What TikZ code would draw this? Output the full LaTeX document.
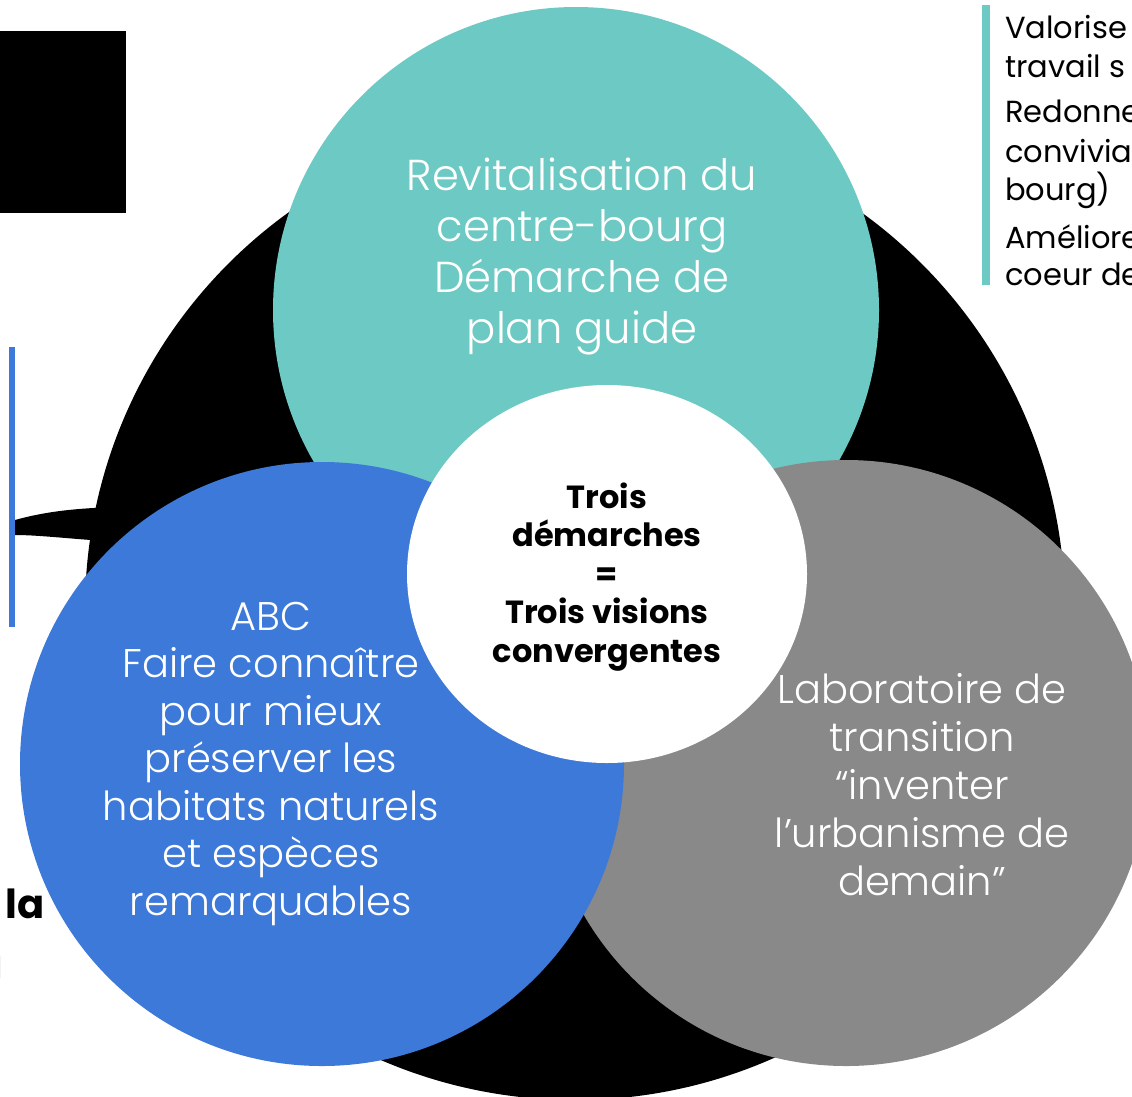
\documentclass[tikz,border=0pt]{standalone}
\usepackage{fontspec}
\setmainfont{Poppins}
\newfontfamily\lightfont{Poppins Light}
\usetikzlibrary{shapes.geometric, positioning}
\definecolor{tealc}{RGB}{109,201,195}
\definecolor{bluec}{RGB}{61,121,217}
\definecolor{grayc}{RGB}{137,137,137}
\tikzstyle{bubble} = [circle, draw=none, inner sep=0pt]
\tikzstyle{intext} = [text=white, inner sep=0pt, anchor=base, font=\lightfont\fontsize{40}{48}\selectfont]
\tikzstyle{keytext} = [inner sep=0pt, anchor=base, font=\bfseries\fontsize{32}{38}\selectfont]
\tikzstyle{sidetext} = [inner sep=0pt, anchor=base west, font=\fontsize{30.5}{38}\selectfont]

\begin{document}
\begin{tikzpicture}[x=1pt, y=-1pt]
\useasboundingbox (0,0) rectangle (1132,1096);

% Background pieces
\fill[black] (0,31) rectangle (126,213);
\fill[bluec] (9,347) rectangle (15,627);
\fill[tealc] (982,5) rectangle (990,285);
\fill[black] (15,520) .. controls (40,513) and (70,508) .. (120,507) -- (120,542) .. controls (70,539) and (40,535) .. (15,535) -- cycle;

% Circles
\node (outer) [bubble, fill=black, minimum size=980pt] at (575,610) {};
\node (centre) [bubble, fill=tealc, minimum size=606pt] at (576,310) {};
\node (labo) [bubble, fill=grayc, minimum size=606pt] at (846,763) {};
\node (abc) [bubble, fill=bluec, minimum size=604pt] at (322,764) {};
\node (core) [ellipse, draw=none, fill=white, minimum width=400pt, minimum height=378pt] at (607,574) {};

% Texts in the circles
\foreach \txt [count=\i] in {Revitalisation du, centre-bourg, Démarche de, plan guide}
  \node (t\i) [intext, font=\lightfont\fontsize{43.3}{51}\selectfont] at (582,190+51*\i-51) {\txt};
\foreach \txt [count=\i] in {ABC, Faire connaître, pour mieux, préserver les, habitats naturels, et espèces, remarquables}
  \node (b\i) [intext] at (271,630+47.5*\i-47.5) {\txt};
\foreach \txt [count=\i] in {Laboratoire de, transition, “inventer, l’urbanisme de, demain”}
  \node (g\i) [intext] at (922,703+48*\i-48) {\txt};
\foreach \txt [count=\i] in {Trois, démarches, =, Trois visions, convergentes}
  \node (k\i) [keytext] at (607,508+38.5*\i-38.5) {\txt};

% Side texts
\node (s1) [sidetext] at (1005,38) {Valorise};
\node (s2) [sidetext] at (1005,77) {travail s};
\node (s3) [sidetext] at (1005,122) {Redonne};
\node (s4) [sidetext] at (1005,162) {convivia};
\node (s5) [sidetext] at (1005,200) {bourg)};
\node (s6) [sidetext] at (1005,248) {Améliore};
\node (s7) [sidetext] at (1005,285) {coeur de};
\node (la) [inner sep=0pt, anchor=base west, font=\bfseries\fontsize{40}{48}\selectfont] at (5,918) {la};
\node (cut) [inner sep=0pt, anchor=base east, font=\fontsize{30}{38}\selectfont] at (3.5,978) {l};

\end{tikzpicture}
\end{document}
